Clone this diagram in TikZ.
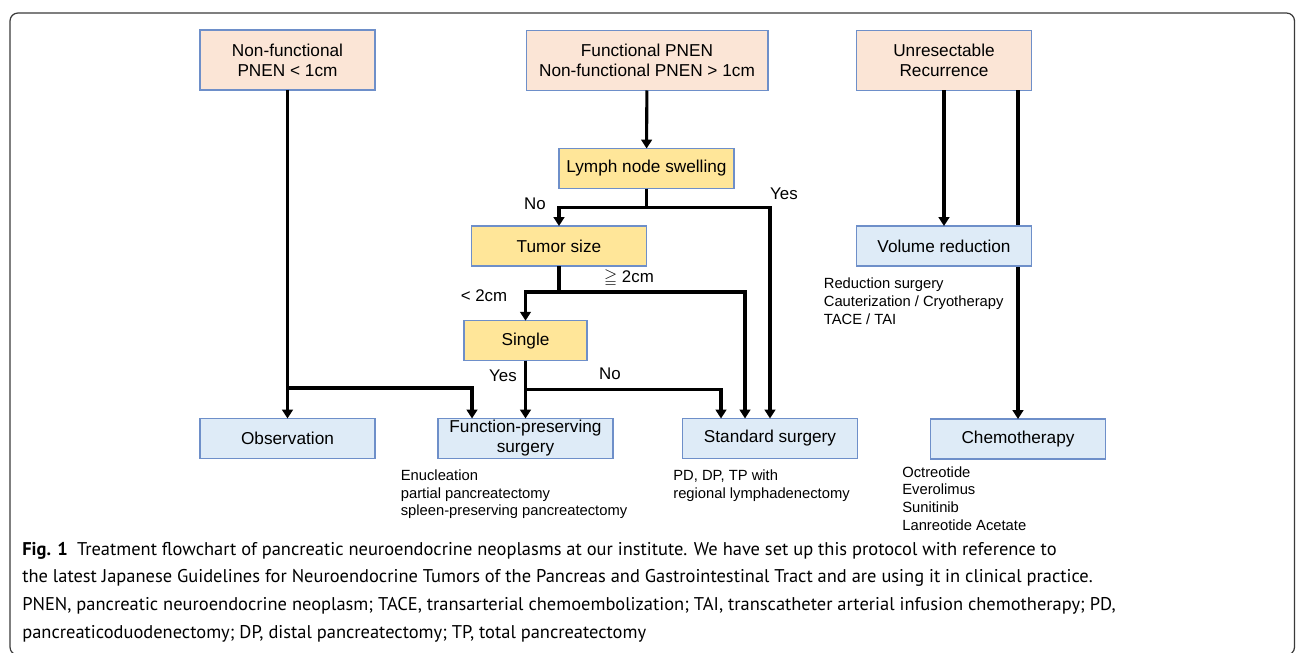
\documentclass[tikz,border=0pt]{standalone}
\usepackage{amssymb}
\usepackage{fontspec}
\setmainfont{Liberation Sans}
\newfontfamily\capfont{PT Sans}
\usetikzlibrary{arrows.meta,positioning}
\definecolor{boxline}{HTML}{6E8FC9}
\definecolor{peach}{HTML}{FBE5D6}
\definecolor{gold}{HTML}{FFE699}
\definecolor{paleblue}{HTML}{DEEBF7}
\definecolor{framegray}{HTML}{3A3A3A}

\begin{document}
\begin{tikzpicture}[x=0.02cm, y=-0.02cm,
  box/.style={rectangle, draw=boxline, line width=0.6pt, minimum width=3.5cm, minimum height=0.8cm, inner sep=0pt, outer sep=0pt, align=center, font=\fontsize{9.8}{11.4}\selectfont},
  start/.style={box, fill=peach, minimum height=1.2cm},
  decision/.style={box, fill=gold},
  treat/.style={box, fill=paleblue},
  arrow/.style={-{Triangle[length=5pt, width=6pt]}, line width=1.75pt},
  cond/.style={font=\fontsize{9.6}{11}\selectfont, inner sep=0pt},
  note/.style={font=\fontsize{8.4}{10}\selectfont, align=left, anchor=base west, inner sep=0pt}
]
  \useasboundingbox (0,0) rectangle (1296,653);
  \draw[framegray, line width=0.7pt, rounded corners=4.5pt] (10,13) rectangle (1294.5,655);

  % Entry points
  \node[start] (small) at (287.5, 60) {Non-functional\\PNEN < 1cm};
  \node[start, minimum width=4.84cm] (func) at (647, 60.5) {Functional PNEN\\Non-functional PNEN > 1cm};
  \node[start] (unres) at (944, 60.5) {Unresectable\\Recurrence};

  % Decisions
  \node[decision] (lymph) at (646.5, 168.5) {Lymph node swelling};
  \node[decision] (size) at (559, 246) {Tumor size};
  \node[decision, minimum width=2.46cm] (single) at (525.5, 340.7) {Single};

  % Treatments
  \node[treat] (obs) at (287.5, 438.5) {Observation};
  \node[treat] (fps) at (525.5, 438.5) {Function-preserving\\surgery};
  \node[treat] (std) at (770, 438.5) {Standard surgery};
  \node[treat] (chemo) at (1018, 439) {Chemotherapy};

  % Unresectable branch (line runs behind volume reduction)
  \draw[arrow] (unres.south -| chemo.north) -- (chemo.north);
  \node[treat] (vol) at (944, 246) {Volume reduction};
  \draw[arrow] (unres) -- (vol);

  % Small tumour branch
  \coordinate (merge) at (small.south |- 0,388);
  \draw[arrow] (small) -- (obs);
  \draw[arrow] (merge) -| ([xshift=-1.07cm]fps.north);

  % Resectable branch
  \draw[arrow] (func) -- (lymph);
  \draw[arrow] (lymph.south) -- ++(0,19) -| (size.north);
  \draw[arrow] (lymph.south) -- ++(0,19) -| (std.north);
  \draw[arrow] (size.south) -- ++(0,26) -| (single.north);
  \draw[arrow] (size.south) -- ++(0,26) -| ([xshift=-0.5cm]std.north);
  \draw[arrow] (single) -- (fps);
  \draw[arrow] (single.south) -- ++(0,28.5) -| ([xshift=-0.98cm]std.north);

  % Branch labels
  \node[cond] (lymph-no) at (535, 204) {No};
  \node[cond] (lymph-yes) at (784, 194) {Yes};
  \node[cond] (size-lt) at (484, 296) {< 2cm};
  \node[cond] (size-ge) at (629, 278) {$\geqq$ 2cm};
  \node[cond] (single-yes) at (503, 376) {Yes};
  \node[cond] (single-no) at (610, 374) {No};

  % Notes under boxes (placed at the baseline of the last line)
  \node[note] (vol-note) at (823.5, 324.1) {Reduction surgery\\Cauterization / Cryotherapy\\TACE / TAI};
  \node[note] (fps-note) at (400.5, 515.8) {Enucleation\\partial pancreatectomy\\spleen-preserving pancreatectomy};
  \node[note] (std-note) at (673, 498.3) {PD, DP, TP with\\regional lymphadenectomy};
  \node[note] (chemo-note) at (902, 530) {Octreotide\\Everolimus\\Sunitinib\\Lanreotide Acetate};

  % Caption
  \node[anchor=base west, align=left, inner sep=0pt, font=\capfont\fontsize{10.5}{15.8}\selectfont] (caption) at (22, 638.3)
    {\textbf{Fig. 1}\hspace{0.5em}Treatment flowchart of pancreatic neuroendocrine neoplasms at our institute. We have set up this protocol with reference to\\
     the latest Japanese Guidelines for Neuroendocrine Tumors of the Pancreas and Gastrointestinal Tract and are using it in clinical practice.\\
     PNEN, pancreatic neuroendocrine neoplasm; TACE, transarterial chemoembolization; TAI, transcatheter arterial infusion chemotherapy; PD,\\
     pancreaticoduodenectomy; DP, distal pancreatectomy; TP, total pancreatectomy};
\end{tikzpicture}
\end{document}
